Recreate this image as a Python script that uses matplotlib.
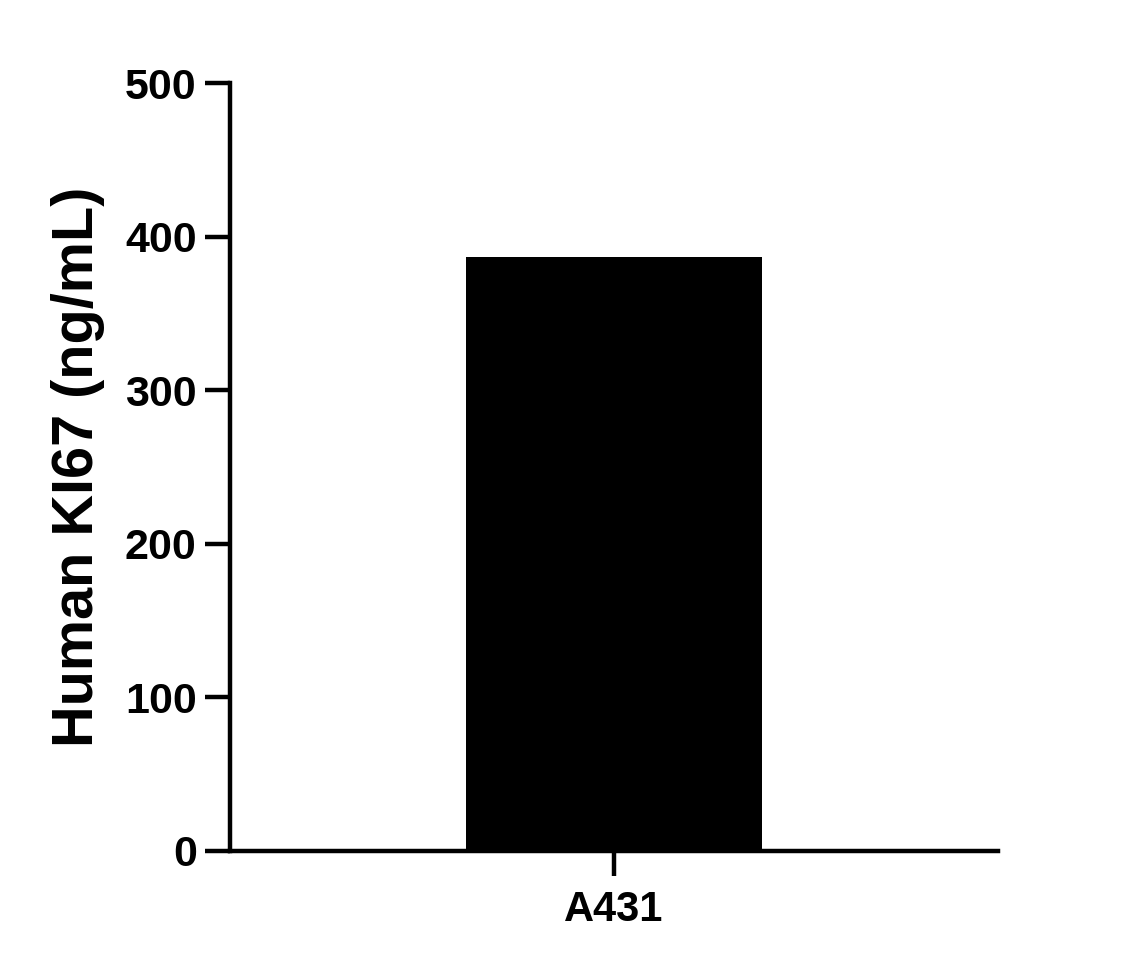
import matplotlib
matplotlib.use('Agg')
import matplotlib.pyplot as plt

# data
categories = ['A431']
values = [387]

plt.rcParams['font.family'] = ['Liberation Sans', 'DejaVu Sans']
plt.rcParams['font.weight'] = 'bold'

fig = plt.figure(figsize=(11.35, 9.67), dpi=100)
ax = fig.add_axes([230 / 1135, 116 / 967, 768 / 1135, 768 / 967])

xpos = list(range(len(categories)))
ax.bar(xpos, values, width=1.0, color='black', edgecolor='black', linewidth=0)

ax.set_xlim(-1.3, 1.3)
ax.set_ylim(0, 500)
ax.set_yticks([0, 100, 200, 300, 400, 500])
ax.set_xticks(xpos)
ax.set_xticklabels(categories)

for side in ['top', 'right']:
    ax.spines[side].set_visible(False)
for side in ['left', 'bottom']:
    ax.spines[side].set_linewidth(3.2)

ax.tick_params(axis='both', width=3.2, length=18)
ax.tick_params(axis='y', labelsize=31, pad=6)
ax.tick_params(axis='x', labelsize=30, pad=10)
for lab in ax.get_xticklabels() + ax.get_yticklabels():
    lab.set_fontweight('bold')

ax.set_ylabel('Human KI67 (ng/mL)', fontsize=41.5, fontweight='bold', labelpad=14)

fig.savefig('out.png', dpi=100)
